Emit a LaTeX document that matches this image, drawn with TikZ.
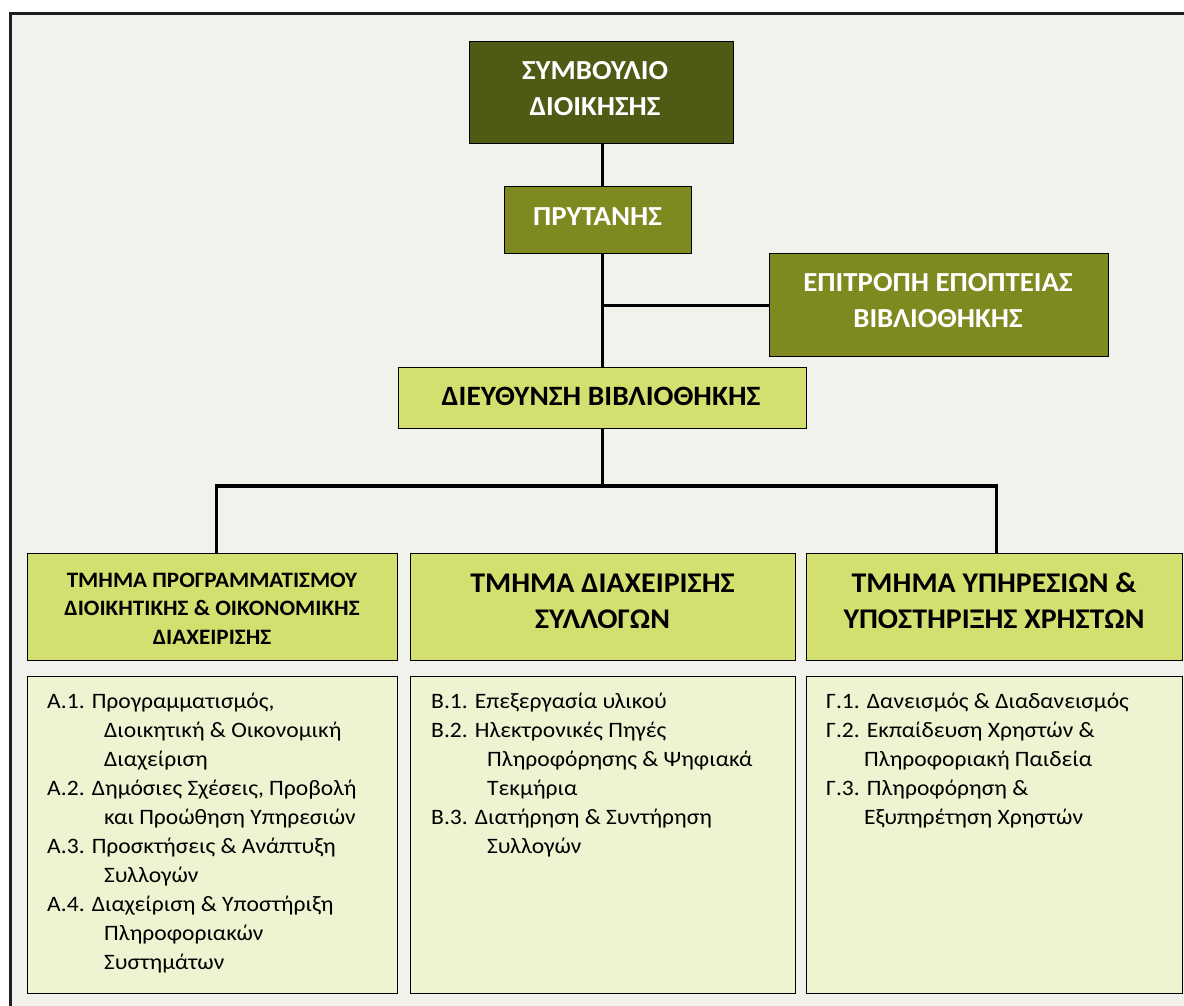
\documentclass[tikz,border=0pt]{standalone}
\usepackage{fontspec}
\setmainfont{Carlito}[UprightFeatures={FakeStretch=1.07}, BoldFeatures={FakeStretch=1.05}]

\definecolor{pagebg}{HTML}{F0F2EB}
\definecolor{framecol}{HTML}{1E1E1E}
\definecolor{darkolive}{HTML}{505A15}
\definecolor{olive}{HTML}{7E891F}
\definecolor{lightgreen}{HTML}{D3E06F}
\definecolor{paleyellow}{HTML}{EFF3D1}

\begin{document}
\begin{tikzpicture}[x=1pt, y=-1pt,
  box/.style={draw=black, line width=1.3, inner sep=0, anchor=north west},
  topbox/.style={box, fill=darkolive},
  midbox/.style={box, fill=olive},
  deptbox/.style={box, fill=lightgreen},
  listbox/.style={box, fill=paleyellow},
  txt/.style={inner sep=0, anchor=base},
  listtxt/.style={inner sep=0, anchor=base west},
  link/.style={draw=black, line width=3},
  barlink/.style={draw=black, line width=4}]

\useasboundingbox (0,0) rectangle (1184,1005);
\clip (0,0) rectangle (1184,1005);

% page frame (runs past the right and bottom edges)
\fill[white] (0,0) rectangle (1184,1005);
\draw[line width=2.5, draw=framecol, fill=pagebg] (10.5,13.5) rectangle (1200,1020);

% ---- boxes ----
\node[topbox, minimum width=264, minimum height=102] (board) at (469,41) {};
\node[midbox, minimum width=187, minimum height=67] (rector) at (504,186) {};
\node[midbox, minimum width=339, minimum height=103] (committee) at (769,253) {};
\node[deptbox, minimum width=408, minimum height=61] (dir) at (398,367) {};

\node[deptbox, minimum width=370, minimum height=107] (deptA) at (27,553) {};
\node[deptbox, minimum width=385, minimum height=107] (deptB) at (410,553) {};
\node[deptbox, minimum width=376, minimum height=107] (deptC) at (806,553) {};

\node[listbox, minimum width=370, minimum height=317] (listA) at (27,676) {};
\node[listbox, minimum width=385, minimum height=317] (listB) at (410,676) {};
\node[listbox, minimum width=376, minimum height=317] (listC) at (806,676) {};

% ---- connectors ----
\coordinate (spine) at (602,0);
\coordinate (bar) at (602,486);
\draw[link] (board.south -| spine) -- (rector.north -| spine);
\draw[link] (rector.south -| spine) -- (dir.north -| spine);
\draw[link] (committee.west -| spine) -- (committee.west);
\draw[link] (dir.south -| spine) -- (bar);
\draw[barlink] ([xshift=-1.5pt]bar -| 216,0) -- ([xshift=1.5pt]bar -| 996,0);
\draw[link] (bar -| 216,0) -- (deptA.north -| 216,0);
\draw[link] (bar -| 996,0) -- (deptC.north -| 996,0);

% ---- headings ----
\node[txt, text=white] (board-t) at (595,79)
  {\parbox[t]{260pt}{\centering\fontsize{27.5}{36}\selectfont\bfseries ΣΥΜΒΟΥΛΙΟ\\ΔΙΟΙΚΗΣΗΣ}};
\node[txt, text=white] (rector-t) at (597.5,225)
  {\fontsize{27.5}{36}\selectfont\bfseries ΠΡΥΤΑΝΗΣ};
\node[txt, text=white] (committee-t) at (938,291)
  {\parbox[t]{330pt}{\centering\fontsize{27.5}{36}\selectfont\bfseries ΕΠΙΤΡΟΠΗ ΕΠΟΠΤΕΙΑΣ\\ΒΙΒΛΙΟΘΗΚΗΣ}};
\node[txt] (dir-t) at (601,405)
  {\fontsize{28}{36}\selectfont\bfseries ΔΙΕΥΘΥΝΣΗ ΒΙΒΛΙΟΘΗΚΗΣ};

\node[txt] (deptA-t) at (212,587)
  {\parbox[t]{365pt}{\centering\fontsize{22}{28.7}\selectfont\bfseries ΤΜΗΜΑ ΠΡΟΓΡΑΜΜΑΤΙΣΜΟΥ\\ΔΙΟΙΚΗΤΙΚΗΣ \& ΟΙΚΟΝΟΜΙΚΗΣ\\ΔΙΑΧΕΙΡΙΣΗΣ}};
\node[txt] (deptB-t) at (602.5,592)
  {\parbox[t]{380pt}{\centering\fontsize{28.5}{36}\selectfont\bfseries ΤΜΗΜΑ ΔΙΑΧΕΙΡΙΣΗΣ\\ΣΥΛΛΟΓΩΝ}};
\node[txt] (deptC-t) at (994,592)
  {\parbox[t]{376pt}{\centering\fontsize{28.5}{36}\selectfont\bfseries ΤΜΗΜΑ ΥΠΗΡΕΣΙΩΝ \&\\ΥΠΟΣΤΗΡΙΞΗΣ ΧΡΗΣΤΩΝ}};

% ---- unit lists ----
\node[listtxt] (listA-t) at (47,708)
  {\parbox[t]{345pt}{\fontsize{22}{29.1}\selectfont
   Α.1. Προγραμματισμός,\\
   \hspace*{57pt}Διοικητική \& Οικονομική\\
   \hspace*{57pt}Διαχείριση\\
   Α.2. Δημόσιες Σχέσεις, Προβολή\\
   \hspace*{57pt}και Προώθηση Υπηρεσιών\\
   Α.3. Προσκτήσεις \& Ανάπτυξη\\
   \hspace*{57pt}Συλλογών\\
   Α.4. Διαχείριση \& Υποστήριξη\\
   \hspace*{57pt}Πληροφοριακών\\
   \hspace*{57pt}Συστημάτων}};
\node[listtxt] (listB-t) at (431,708)
  {\parbox[t]{360pt}{\fontsize{22}{29.1}\selectfont
   Β.1. Επεξεργασία υλικού\\
   Β.2. Ηλεκτρονικές Πηγές\\
   \hspace*{56pt}Πληροφόρησης \& Ψηφιακά\\
   \hspace*{56pt}Τεκμήρια\\
   Β.3. Διατήρηση \& Συντήρηση\\
   \hspace*{56pt}Συλλογών}};
\node[listtxt] (listC-t) at (826,708)
  {\parbox[t]{350pt}{\fontsize{22}{29.1}\selectfont
   Γ.1. Δανεισμός \& Διαδανεισμός\\
   Γ.2. Εκπαίδευση Χρηστών \&\\
   \hspace*{38pt}Πληροφοριακή Παιδεία\\
   Γ.3. Πληροφόρηση \&\\
   \hspace*{38pt}Εξυπηρέτηση Χρηστών}};

\end{tikzpicture}
\end{document}
